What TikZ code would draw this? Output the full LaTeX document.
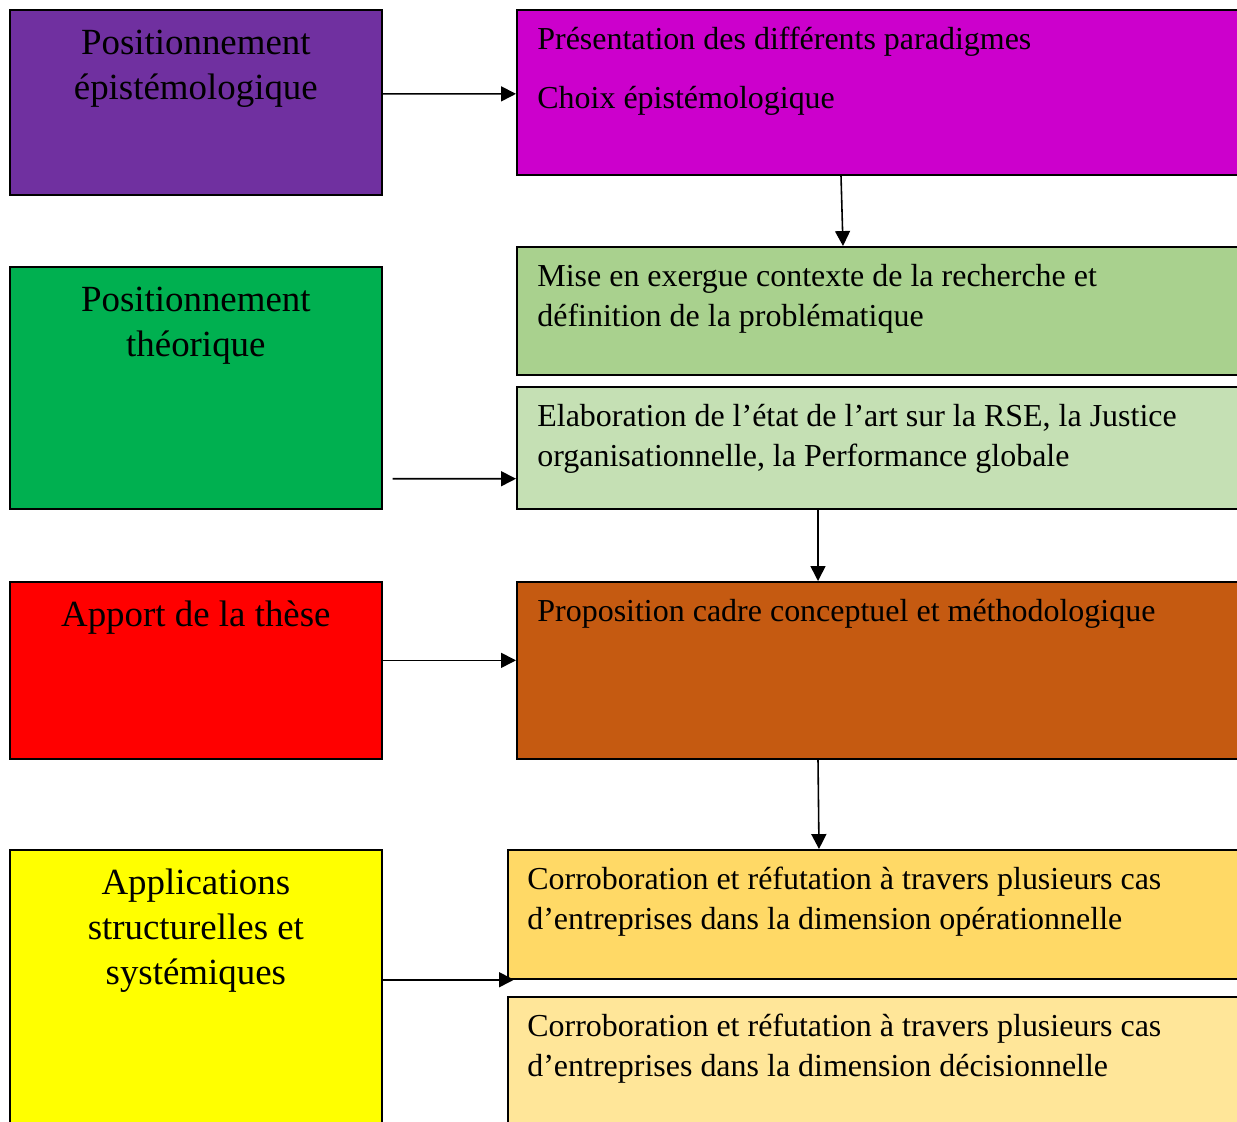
\documentclass[tikz,border=0pt]{standalone}
\usepackage{fontspec}
\setmainfont{Liberation Serif}
\usepackage{xcolor}
\usepackage{tikz}
\usetikzlibrary{arrows.meta}

\definecolor{violet}{HTML}{7030A0}
\definecolor{vert}{HTML}{00B050}
\definecolor{rouge}{HTML}{FF0000}
\definecolor{jaune}{HTML}{FFFF00}
\definecolor{magenta}{HTML}{CC00CC}
\definecolor{vertclair}{HTML}{A9D18E}
\definecolor{vertpale}{HTML}{C5E0B4}
\definecolor{brun}{HTML}{C55A11}
\definecolor{or}{HTML}{FFD966}
\definecolor{orpale}{HTML}{FFE699}

\begin{document}
\begin{tikzpicture}[x=0.02cm, y=-0.02cm,
		boite/.style={draw=black, line width=1pt, anchor=north west, inner sep=0pt, minimum width=#1},
		gauche/.style={anchor=north, inner sep=0pt, align=center, font=\fontsize{21}{25.5}\selectfont},
		droite/.style={anchor=north west, inner sep=0pt, align=left, font=\fontsize{18.2}{22.7}\selectfont},
		fleche/.style={-{Triangle[length=8.5pt, width=8.5pt]}, line width=0.9pt}]
		\clip (0,0) rectangle (1237,1122);

		\node[boite=7.44cm, fill=violet, minimum height=3.7cm] (epi) at (9,9) {};
		\node[boite=7.44cm, fill=vert, minimum height=4.84cm] (theo) at (9,266) {};
		\node[boite=7.44cm, fill=rouge, minimum height=3.54cm] (apport) at (9,581) {};
		\node[boite=7.44cm, fill=jaune, minimum height=5.9cm] (appl) at (9,849) {};

		\node[boite=14.9cm, fill=magenta, minimum height=3.3cm] (paradigmes) at (516,9) {};
		\node[boite=14.9cm, fill=vertclair, minimum height=2.56cm] (contexte) at (516,246) {};
		\node[boite=14.9cm, fill=vertpale, minimum height=2.44cm] (etat) at (516,386) {};
		\node[boite=14.9cm, fill=brun, minimum height=3.54cm] (cadre) at (516,581) {};
		\node[boite=15.1cm, fill=or, minimum height=2.58cm] (operat) at (507,849) {};
		\node[boite=15.1cm, fill=orpale, minimum height=3.2cm] (decis) at (507,996) {};

		\node[gauche] (epiT) at ([shift={(0,14)}]epi.north) {\strut Positionnement\\épistémologique};
		\node[gauche] (theoT) at ([shift={(0,14)}]theo.north) {\strut Positionnement\\théorique};
		\node[gauche] (apportT) at ([shift={(0,14)}]apport.north) {\strut Apport de la thèse};
		\node[gauche] (applT) at ([shift={(0,14)}]appl.north) {\strut Applications\\structurelles et\\systémiques};

		\node[droite] (paradigmesT) at ([shift={(21,12)}]paradigmes.north west) {\strut Présentation des différents paradigmes\\[10.8pt]Choix épistémologique};
		\node[droite] (contexteT) at ([shift={(21,12)}]contexte.north west) {\strut Mise en exergue contexte de la recherche et\\définition de la problématique};
		\node[droite] (etatT) at ([shift={(21,12)}]etat.north west) {\strut Elaboration de l’état de l’art sur la RSE, la Justice\\organisationnelle, la Performance globale};
		\node[droite] (cadreT) at ([shift={(21,12)}]cadre.north west) {\strut Proposition cadre conceptuel et méthodologique};
		\node[droite] (operatT) at ([shift={(20,12)}]operat.north west) {\strut Corroboration et réfutation à travers plusieurs cas\\d’entreprises dans la dimension opérationnelle};
		\node[droite] (decisT) at ([shift={(20,12)}]decis.north west) {\strut Corroboration et réfutation à travers plusieurs cas\\d’entreprises dans la dimension décisionnelle};

		\draw[fleche] ([shift={(0,-8.5)}]epi.east) -- ([shift={(0,1.5)}]paradigmes.west);
		\draw[fleche] ([shift={(10,-31)}]theo.south east) -- ([shift={(0,-31)}]etat.south west);
		\draw[fleche] ([shift={(0,-10)}]apport.east) -- ([shift={(0,-10)}]cadre.west);
		\draw[fleche] (appl.east |- operat.south west) -- ([shift={(7,0)}]operat.south west);

		\draw[fleche] ([shift={(325,0)}]paradigmes.south west) -- ([shift={(327,0)}]contexte.north west);
		\draw[fleche] ([shift={(302,0)}]etat.south west) -- ([shift={(302,0)}]cadre.north west);
		\draw[fleche] ([shift={(302,0)}]cadre.south west) -- ([shift={(312,0)}]operat.north west);
\end{tikzpicture}
\end{document}
